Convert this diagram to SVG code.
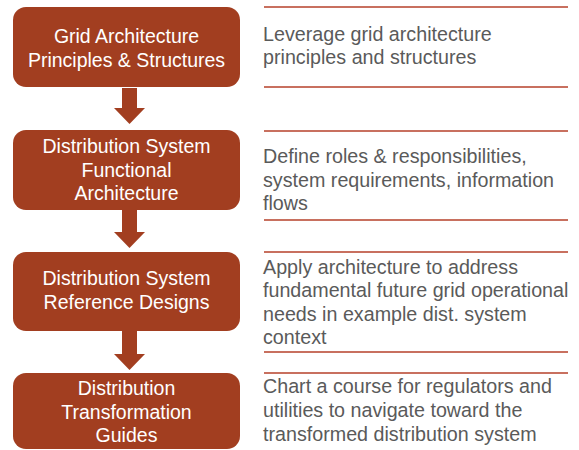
<svg xmlns="http://www.w3.org/2000/svg" width="579" height="450" viewBox="0 0 579 450">
<defs>
<style>
.box{fill:#A23E20;}
.bt{font-family:"Liberation Sans",Arial,sans-serif;font-size:19.5px;fill:#ffffff;text-anchor:middle;}
.rt{font-family:"Liberation Sans",Arial,sans-serif;font-size:19.7px;fill:#5a5a5a;}
.rule{stroke:#C8705F;stroke-width:2;}
.arrow{fill:#A23E20;}
</style>
</defs>
<rect width="579" height="450" fill="#ffffff"/>
<g id="connectors">
<path class="arrow" d="M122,88 H137 V108 H145 L129.5,124 L114,108 H122 Z"/>
<path class="arrow" d="M122,210 H137 V232 H145 L129.5,248 L114,232 H122 Z"/>
<path class="arrow" d="M122,331 H137 V354 H145 L129.5,370 L114,354 H122 Z"/>
</g>
<g id="node1">
<rect class="box" x="13" y="7" width="227" height="80" rx="13"/>
<text class="bt" x="126.5" y="43">Grid Architecture</text>
<text class="bt" x="126.5" y="67">Principles &amp; Structures</text>
</g>
<g id="node2">
<rect class="box" x="13" y="130" width="227" height="80" rx="13"/>
<text class="bt" x="126.5" y="153">Distribution System</text>
<text class="bt" x="126.5" y="177">Functional</text>
<text class="bt" x="126.5" y="200">Architecture</text>
</g>
<g id="node3">
<rect class="box" x="13" y="252" width="227" height="79" rx="13"/>
<text class="bt" x="126.5" y="285">Distribution System</text>
<text class="bt" x="126.5" y="309">Reference Designs</text>
</g>
<g id="node4">
<rect class="box" x="13" y="373" width="227" height="76" rx="13"/>
<text class="bt" x="126.5" y="395">Distribution</text>
<text class="bt" x="126.5" y="419">Transformation</text>
<text class="bt" x="126.5" y="442">Guides</text>
</g>
<g id="descriptions">
<line class="rule" x1="264" y1="7" x2="568" y2="7"/>
<line class="rule" x1="264" y1="87" x2="568" y2="87"/>
<line class="rule" x1="264" y1="131" x2="568" y2="131"/>
<line class="rule" x1="264" y1="220" x2="568" y2="220"/>
<line class="rule" x1="264" y1="252" x2="568" y2="252"/>
<line class="rule" x1="264" y1="352" x2="568" y2="352"/>
<line class="rule" x1="264" y1="373" x2="568" y2="373"/>
<text class="rt" x="263" y="41">Leverage grid architecture</text>
<text class="rt" x="263" y="64">principles and structures</text>
<text class="rt" x="263" y="163">Define roles &amp; responsibilities,</text>
<text class="rt" x="263" y="187">system requirements, information</text>
<text class="rt" x="263" y="210">flows</text>
<text class="rt" x="263" y="274">Apply architecture to address</text>
<text class="rt" x="263" y="297">fundamental future grid operational</text>
<text class="rt" x="263" y="321">needs in example dist. system</text>
<text class="rt" x="263" y="344">context</text>
<text class="rt" x="263" y="393">Chart a course for regulators and</text>
<text class="rt" x="263" y="417">utilities to navigate toward the</text>
<text class="rt" x="263" y="441">transformed distribution system</text>
</g>
</svg>
